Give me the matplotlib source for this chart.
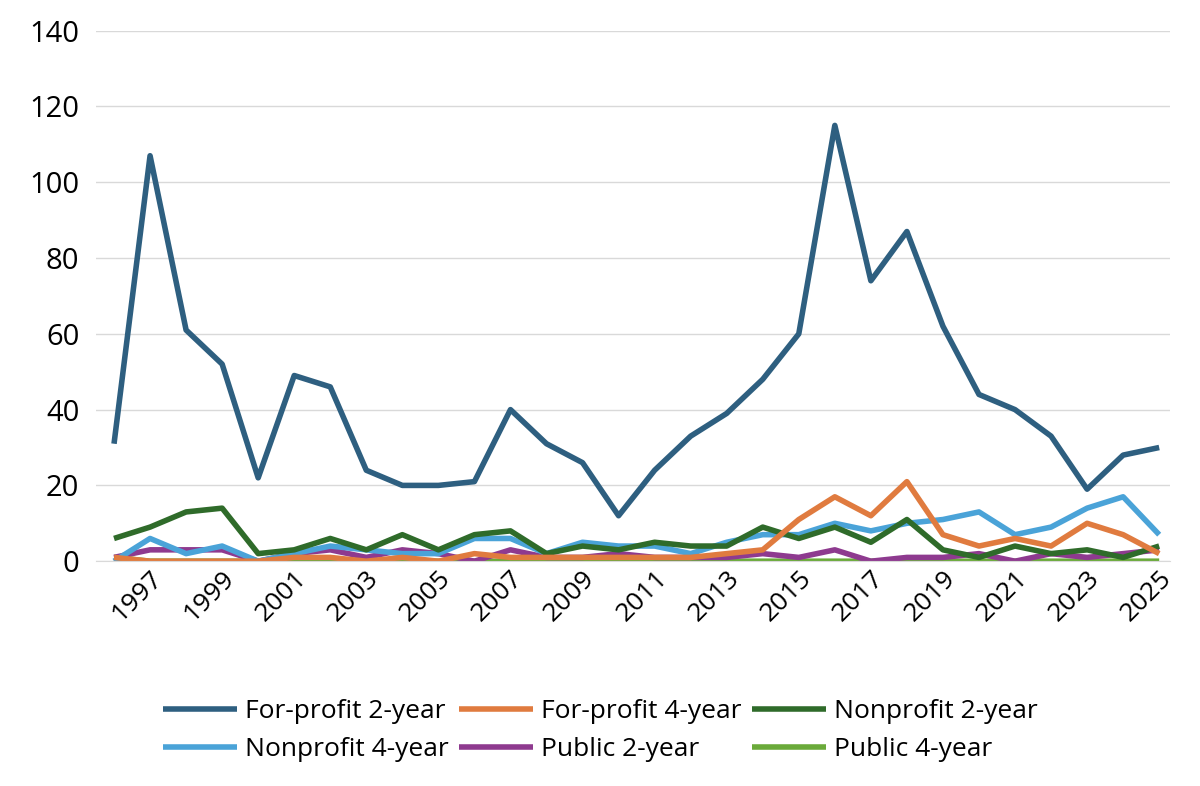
import matplotlib.pyplot as plt
import numpy as np

plt.rcParams["font.family"] = ["Open Sans", "DejaVu Sans"]

years = list(range(1996, 2026))
fp2 = [31, 107, 61, 52, 22, 49, 46, 24, 20, 20, 21, 40, 31, 26, 12, 24, 33, 39, 48, 60, 115, 74, 87, 62, 44, 40, 33, 19, 28, 30]
fp4 = [1, 0, 0, 0, 0, 1, 1, 0, 1, 0, 2, 1, 1, 1, 1, 1, 1, 2, 3, 11, 17, 12, 21, 7, 4, 6, 4, 10, 7, 2]
np2 = [6, 9, 13, 14, 2, 3, 6, 3, 7, 3, 7, 8, 2, 4, 3, 5, 4, 4, 9, 6, 9, 5, 11, 3, 1, 4, 2, 3, 1, 4]
np4 = [0, 6, 2, 4, 0, 2, 4, 3, 2, 2, 6, 6, 2, 5, 4, 4, 2, 5, 7, 7, 10, 8, 10, 11, 13, 7, 9, 14, 17, 7]
pub2 = [1, 3, 3, 3, 0, 2, 3, 1, 3, 2, 0, 3, 1, 1, 2, 1, 1, 1, 2, 1, 3, 0, 1, 1, 2, 0, 2, 1, 2, 3]
pub4 = [1] + [0] * 29

series = [
    ("For-profit 2-year", fp2, "#2e5f80"),
    ("For-profit 4-year", fp4, "#e07b3f"),
    ("Nonprofit 2-year", np2, "#2f6b2a"),
    ("Nonprofit 4-year", np4, "#4aa3d8"),
    ("Public 2-year", pub2, "#8e3a8f"),
    ("Public 4-year", pub4, "#6aaa3a"),
]

fig = plt.figure(figsize=(12, 7.86), dpi=100)
ax = fig.add_axes([0.08, 0.286, 0.895, 0.675])

handles = {}
# draw in reverse so the big series sits on top like the original
for name, vals, color in reversed(series):
    handles[name], = ax.plot(years, vals, color=color, lw=4, label=name, solid_capstyle="butt")

ax.set_ylim(0, 140)
ax.set_yticks(range(0, 141, 20))
ax.set_xlim(1995.5, 2025.3)
ax.set_xticks(range(1997, 2026, 2))
ax.tick_params(axis="x", labelrotation=45, labelsize=19, length=0)
ax.tick_params(axis="y", labelsize=21, length=0, pad=12)
for lbl in ax.get_xticklabels():
    lbl.set_ha("right")
    lbl.set_rotation_mode("anchor")
ax.grid(True, axis="y", color="#d9d9d9", lw=1)
ax.set_axisbelow(True)
for s in ["top", "right", "left"]:
    ax.spines[s].set_visible(False)
ax.spines["bottom"].set_color("#d9d9d9")

# matplotlib fills legend columns first; reorder so rows read like the original
names = [s[0] for s in series]
order = [names[i] for i in (0, 3, 1, 4, 2, 5)]
fig.legend([handles[n] for n in order], order, loc="lower center", ncol=3, frameon=False,
           fontsize=19, bbox_to_anchor=(0.5, 0.0), handlelength=2.8,
           columnspacing=0.4, handletextpad=0.3)

fig.savefig("out.png", dpi=100)
